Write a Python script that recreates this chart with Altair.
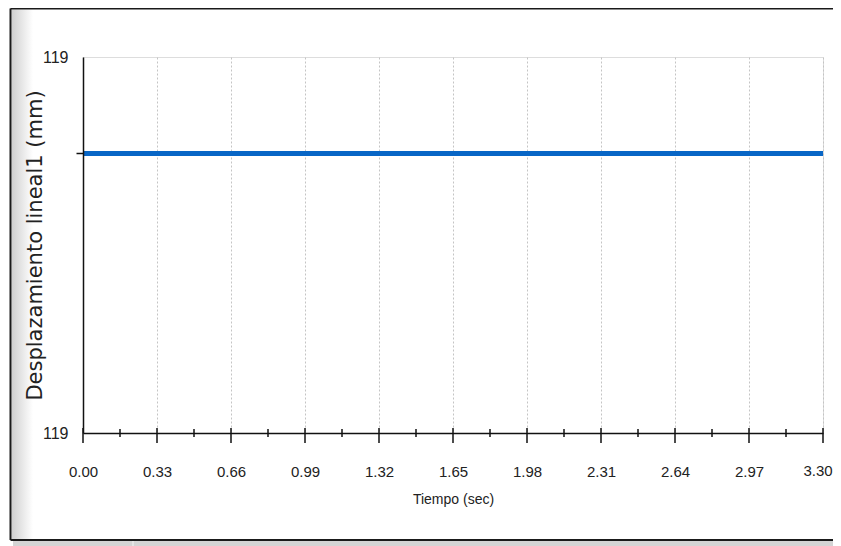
import altair as alt
import pandas as pd

# data
times = [0.00, 0.33, 0.66, 0.99, 1.32, 1.65, 1.98, 2.31, 2.64, 2.97, 3.30]
displacement = [119.2] * len(times)
major_ticks = [0.00, 0.33, 0.66, 0.99, 1.32, 1.65, 1.98, 2.31, 2.64, 2.97, 3.30]
minor_ticks = [0.165, 0.495, 0.825, 1.155, 1.485, 1.815, 2.145, 2.475, 2.805, 3.135]
y_min, y_max = 118.62, 119.40
x_title = "Tiempo (sec)"
y_title = "Desplazamiento lineal1  (mm)"

LBL = "Liberation Sans, Arial, sans-serif"
W, H = 740, 376

df = pd.DataFrame({"t": times, "d": displacement})
df_major = pd.DataFrame({"t": major_ticks})
df_minor = pd.DataFrame({"t": minor_ticks})
df_last = pd.DataFrame({"t": [major_ticks[-1]], "lbl": [f"{major_ticks[-1]:.2f}"]})

xscale = alt.Scale(domain=[0, 3.3], nice=False, zero=False)
yscale = alt.Scale(domain=[y_min, y_max], nice=False, zero=False)

line_val = displacement[0]
last_tick = major_ticks[-1]

line = alt.Chart(df).mark_line(color="#0866C6", strokeWidth=5, strokeCap="butt").encode(
    x=alt.X("t:Q", scale=xscale,
            axis=alt.Axis(values=major_ticks, format=".2f", title=x_title,
                          ticks=False, labelPadding=31, labelFlush=False,
                          labelExpr=f"datum.value >= {last_tick - 0.001} ? '' : datum.label",
                          labelFont=LBL, labelFontSize=15, labelColor="#222",
                          titleFont=LBL, titleFontSize=14, titleFontWeight="normal",
                          titleColor="#222", titleY=66, titleBaseline="middle",
                          grid=True, gridColor="#c4c4c4", gridDash=[2, 2], gridWidth=1,
                          domainColor="#111", domainWidth=1.5, labelOverlap=False)),
    y=alt.Y("d:Q", scale=yscale,
            axis=alt.Axis(values=[y_min, line_val, y_max], grid=False, zindex=1,
                          labelExpr=f"abs(datum.value - {line_val}) < 0.0001 ? '' : format(datum.value, '.0f')",
                          tickSize=7, tickColor="#111", tickWidth=1.5,
                          tickOpacity={"condition": {"test": f"abs(datum.value - {line_val}) < 0.0001", "value": 1}, "value": 0},
                          labelPadding=8, labelFlush=False, labelOverlap=False,
                          labelFont=LBL, labelFontSize=16, labelColor="#222",
                          title=y_title, titleFont="DejaVu Sans", titleFontSize=21,
                          titleFontWeight="normal", titleColor="#222",
                          titleX=-42, titleY=H / 2, titleBaseline="alphabetic", titleAngle=270,
                          domainColor="#111", domainWidth=1.5)),
)

# last x label drawn as a text mark, nudged left so it stays inside the page
last_label = alt.Chart(df_last).mark_text(
    font=LBL, fontSize=15, color="#222", baseline="top", align="center", dx=-5, clip=False
).encode(x=alt.X("t:Q", scale=xscale), y=alt.value(H + 31), text="lbl:N")

major = alt.Chart(df_major).mark_rule(color="#111", strokeWidth=1.5).encode(
    x=alt.X("t:Q", scale=xscale), y=alt.value(H - 5), y2=alt.value(H + 10))
minor = alt.Chart(df_minor).mark_rule(color="#111", strokeWidth=1.5).encode(
    x=alt.X("t:Q", scale=xscale), y=alt.value(H - 4), y2=alt.value(H + 4))

# outer window frame: top, left and bottom edges, plus status strip below
FB = 483
RIGHT = W + 10
frame_top = alt.Chart(df.head(1)).mark_rule(color="#1a1a1a", strokeWidth=2, clip=False).encode(
    x=alt.value(-72.5), x2=alt.value(RIGHT), y=alt.value(-48.5))
frame_bottom = alt.Chart(df.head(1)).mark_rule(color="#1a1a1a", strokeWidth=2, clip=False).encode(
    x=alt.value(-72.5), x2=alt.value(RIGHT), y=alt.value(FB))
frame_left = alt.Chart(df.head(1)).mark_rule(color="#1a1a1a", strokeWidth=2, clip=False).encode(
    x=alt.value(-72.5), y=alt.value(-48.5), y2=alt.value(FB))
strip = alt.Chart(df.head(1)).mark_rect(color="#d4d4d4", clip=False).encode(
    x=alt.value(-70), x2=alt.value(RIGHT), y=alt.value(FB + 1), y2=alt.value(FB + 12))
strip_div = alt.Chart(df.head(1)).mark_rule(color="#f4f4f4", strokeWidth=1, clip=False).encode(
    x=alt.value(50), y=alt.value(FB + 1), y2=alt.value(FB + 12))
shade = alt.Chart(df.head(1)).mark_rect(
    color=alt.LinearGradient(gradient="linear", x1=0, x2=1, y1=0, y2=0,
                             stops=[alt.GradientStop(color="#cfcfcf", offset=0),
                                    alt.GradientStop(color="#ffffff", offset=1)]),
    clip=False).encode(
    x=alt.value(-71.5), x2=alt.value(-50), y=alt.value(-47.5), y2=alt.value(FB - 1))

chart = alt.layer(shade, strip, strip_div, frame_top, frame_bottom, frame_left,
                  line, major, minor, last_label).properties(
    width=W, height=H,
    padding={"left": 75, "top": 49, "right": 10, "bottom": 114},
    autosize=alt.AutoSizeParams(type="none"),
).configure_view(stroke="#111", strokeWidth=1.5).configure(background="white")

chart.save("out.html", embed_options={"renderer": "svg", "actions": False})
